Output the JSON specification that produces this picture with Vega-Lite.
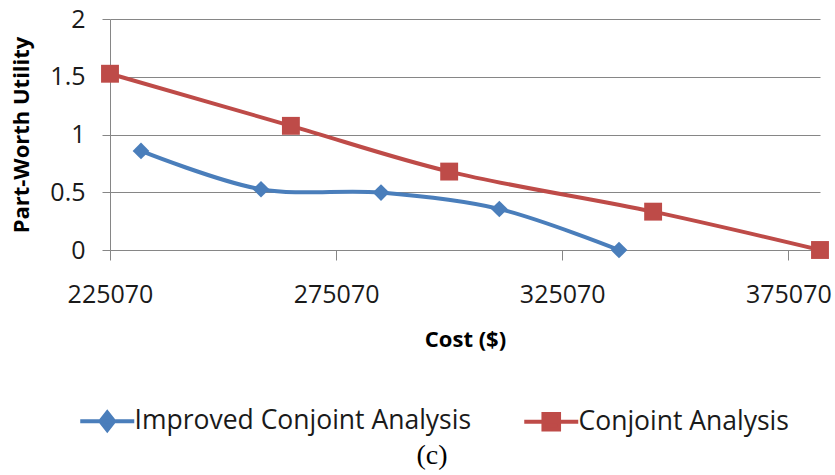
{
  "$schema": "https://vega.github.io/schema/vega-lite/v6.json",
  "autosize": {"type": "none"},
  "padding": {"left": 110, "top": 19, "right": 15, "bottom": 225},
  "width": 710,
  "height": 231,
  "background": "white",
  "title": {
    "text": "(c)",
    "orient": "bottom",
    "anchor": "middle",
    "dx": -33,
    "font": "Liberation Serif",
    "fontSize": 28,
    "fontWeight": "normal",
    "color": "#000000",
    "offset": 4
  },
  "data": {
    "values": [
      {"series": "Improved Conjoint Analysis", "cost": 231925, "utility": 0.858},
      {"series": "Improved Conjoint Analysis", "cost": 258460, "utility": 0.526},
      {"series": "Improved Conjoint Analysis", "cost": 285000, "utility": 0.497},
      {"series": "Improved Conjoint Analysis", "cost": 311160, "utility": 0.355},
      {"series": "Improved Conjoint Analysis", "cost": 337630, "utility": 0},
      {"series": "Conjoint Analysis", "cost": 225070, "utility": 1.526},
      {"series": "Conjoint Analysis", "cost": 265070, "utility": 1.075},
      {"series": "Conjoint Analysis", "cost": 300070, "utility": 0.679},
      {"series": "Conjoint Analysis", "cost": 345170, "utility": 0.332},
      {"series": "Conjoint Analysis", "cost": 382070, "utility": 0}
    ]
  },
  "encoding": {
    "x": {
      "field": "cost",
      "type": "quantitative",
      "scale": {"domain": [225070, 382070], "nice": false, "zero": false},
      "axis": {
        "title": "Cost ($)",
        "values": [225070, 275070, 325070, 375070],
        "format": "d",
        "grid": false,
        "domainColor": "#868686",
        "tickColor": "#868686",
        "tickSize": 10,
        "labelFont": "Open Sans",
        "labelFontSize": 25,
        "labelColor": "#1a1a1a",
        "labelPadding": 22,
        "labelFlush": false,
        "titleFont": "Open Sans",
        "titleFontSize": 22,
        "titleFontWeight": "bold",
        "titleColor": "#000000",
        "titlePadding": 22
      }
    },
    "y": {
      "field": "utility",
      "type": "quantitative",
      "scale": {"domain": [0, 2], "nice": false},
      "axis": {
        "title": "Part-Worth Utility",
        "values": [0, 0.5, 1, 1.5, 2],
        "format": "~g",
        "grid": true,
        "gridColor": "#868686",
        "gridWidth": 1,
        "domainColor": "#868686",
        "tickColor": "#868686",
        "tickSize": 8,
        "labelFont": "Open Sans",
        "labelFontSize": 25,
        "labelColor": "#1a1a1a",
        "labelPadding": 17,
        "labelFlush": false,
        "titleFont": "Open Sans",
        "titleFontSize": 22,
        "titleFontWeight": "bold",
        "titleColor": "#000000",
        "titlePadding": 16
      }
    }
  },
  "layer": [
    {
      "mark": {"type": "line", "strokeWidth": 4, "interpolate": "catmull-rom"},
      "encoding": {
        "color": {
          "field": "series",
          "type": "nominal",
          "scale": {
            "domain": ["Improved Conjoint Analysis", "Conjoint Analysis"],
            "range": ["#4A7EBB", "#BE4B48"]
          },
          "legend": null
        }
      }
    },
    {
      "mark": {"type": "point", "filled": true, "opacity": 1},
      "encoding": {
        "shape": {
          "field": "series",
          "type": "nominal",
          "scale": {
            "domain": ["Improved Conjoint Analysis", "Conjoint Analysis"],
            "range": ["diamond", "square"]
          },
          "legend": null
        },
        "size": {
          "field": "series",
          "type": "nominal",
          "scale": {
            "domain": ["Improved Conjoint Analysis", "Conjoint Analysis"],
            "range": [280, 320]
          },
          "legend": null
        },
        "color": {
          "field": "series",
          "type": "nominal",
          "scale": {
            "domain": ["Improved Conjoint Analysis", "Conjoint Analysis"],
            "range": ["#4A7EBB", "#BE4B48"]
          },
          "legend": {
            "title": null,
            "orient": "none",
            "direction": "horizontal",
            "legendX": -16,
            "legendY": 389,
            "symbolSize": 144,
            "symbolStrokeWidth": 4,
            "symbolOpacity": 1,
            "labelFont": "Open Sans",
            "labelFontSize": 26.5,
            "labelColor": "#1a1a1a",
            "labelOffset": 14,
            "labelLimit": 500,
            "columnPadding": 44,
            "encode": {
              "symbols": {
                "update": {
                  "shape": {"signal": "datum.value === 'Conjoint Analysis' ? 'M-4.5,0H4.5M-1.3,-1.3H1.3V1.3H-1.3Z' : 'M-4.5,0H4.5M0,-1.45L1.15,0L0,1.45L-1.15,0Z'"},
                  "stroke": {"scale": "color", "field": "value"},
                  "strokeWidth": {"value": 4}
                }
              }
            }
          }
        }
      }
    }
  ],
  "resolve": {"legend": {"color": "independent"}},
  "config": {
    "view": {"stroke": null}
  }
}
